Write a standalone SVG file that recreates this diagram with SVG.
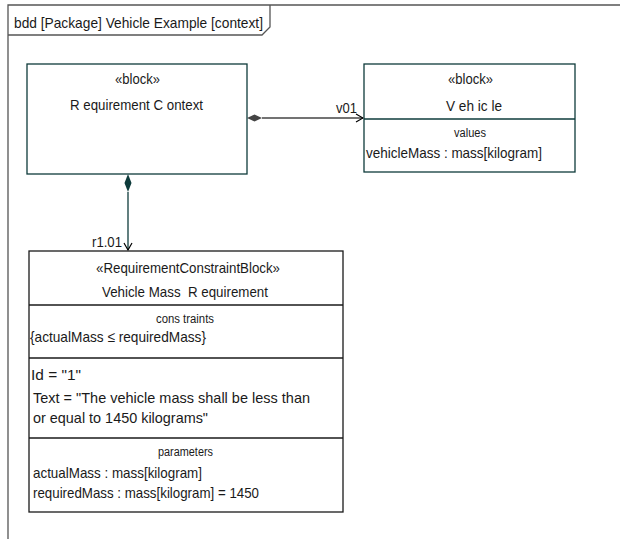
<svg xmlns="http://www.w3.org/2000/svg" width="620" height="539" viewBox="0 0 620 539">
<style>
text{font-family:"Liberation Sans",Arial,sans-serif;font-size:15px;fill:#1a1a1a}
.s{font-size:12.5px}
.blk{fill:#fff;stroke:#0e3b3b;stroke-width:1.3}
.req{fill:#fff;stroke:#1a1a1a;stroke-width:1.3}
.frame{fill:none;stroke:#555;stroke-width:1.3}
</style>
<defs>
<marker id="open" markerWidth="10" markerHeight="10" refX="9" refY="5" orient="auto" markerUnits="userSpaceOnUse">
<path d="M2,1 L9,5 L2,9" fill="none" stroke="currentColor" stroke-width="1.2"/>
</marker>
</defs>
<rect width="620" height="539" fill="#fff"/>
<g id="frame">
<path class="frame" d="M8,539 L8,5 L620,5"/>
<path class="frame" d="M8,35 L262,35 L270,27 L270,5"/>
<text x="14" y="28" textLength="249" lengthAdjust="spacingAndGlyphs">bdd [Package] Vehicle Example [context]</text>
</g>
<g id="connectors">
<g style="color:#444">
<line x1="262" y1="118" x2="363" y2="118" stroke="#444" stroke-width="1.3" marker-end="url(#open)"/>
<path d="M247,118 L254.5,114.5 L262,118 L254.5,121.5 Z" fill="#444"/>
<text x="336" y="113" textLength="21" lengthAdjust="spacingAndGlyphs">v01</text>
</g>
<g style="color:#0e3b3b">
<line x1="128" y1="192" x2="128" y2="250" stroke="#0e3b3b" stroke-width="1.3" marker-end="url(#open)"/>
<path d="M128,174 L131.5,183 L128,192 L124.5,183 Z" fill="#0e3b3b"/>
<text x="92" y="247" textLength="30" lengthAdjust="spacingAndGlyphs">r1.01</text>
</g>
</g>
<g id="RequirementContext">
<rect class="blk" x="27" y="64" width="220" height="110"/>
<text x="115" y="84" textLength="45" lengthAdjust="spacingAndGlyphs">«block»</text>
<text x="70" y="110" textLength="133" lengthAdjust="spacingAndGlyphs">R equirement C ontext</text>
</g>
<g id="Vehicle">
<rect class="blk" x="364" y="64" width="211" height="108"/>
<line class="blk" x1="364" y1="119" x2="575" y2="119"/>
<text x="448" y="84" textLength="45" lengthAdjust="spacingAndGlyphs">«block»</text>
<text x="446" y="111" textLength="56" lengthAdjust="spacingAndGlyphs">V eh ic le</text>
<text class="s" x="454" y="137" textLength="32" lengthAdjust="spacingAndGlyphs">values</text>
<text x="366" y="158" textLength="176" lengthAdjust="spacingAndGlyphs">vehicleMass : mass[kilogram]</text>
</g>
<g id="VehicleMassRequirement">
<rect class="req" x="29" y="251" width="314" height="261"/>
<line class="req" x1="29" y1="305" x2="343" y2="305"/>
<line class="req" x1="29" y1="358" x2="343" y2="358"/>
<line class="req" x1="29" y1="438" x2="343" y2="438"/>
<text x="96" y="273" textLength="184" lengthAdjust="spacingAndGlyphs">«RequirementConstraintBlock»</text>
<text x="102" y="297" textLength="166" lengthAdjust="spacingAndGlyphs" xml:space="preserve">Vehicle Mass  R equirement</text>
<text class="s" x="156" y="323" textLength="58" lengthAdjust="spacingAndGlyphs">cons traints</text>
<text x="30" y="342" textLength="176" lengthAdjust="spacingAndGlyphs">{actualMass ≤ requiredMass}</text>
<text x="31" y="380" textLength="50" lengthAdjust="spacingAndGlyphs">Id = "1"</text>
<text x="33" y="403" textLength="277" lengthAdjust="spacingAndGlyphs">Text = "The vehicle mass shall be less than</text>
<text x="33" y="423" textLength="175" lengthAdjust="spacingAndGlyphs">or equal to 1450 kilograms"</text>
<text class="s" x="158" y="456" textLength="55" lengthAdjust="spacingAndGlyphs">parameters</text>
<text x="33" y="478" textLength="169" lengthAdjust="spacingAndGlyphs">actualMass : mass[kilogram]</text>
<text x="33" y="498" textLength="226" lengthAdjust="spacingAndGlyphs">requiredMass : mass[kilogram] = 1450</text>
</g>
</svg>
